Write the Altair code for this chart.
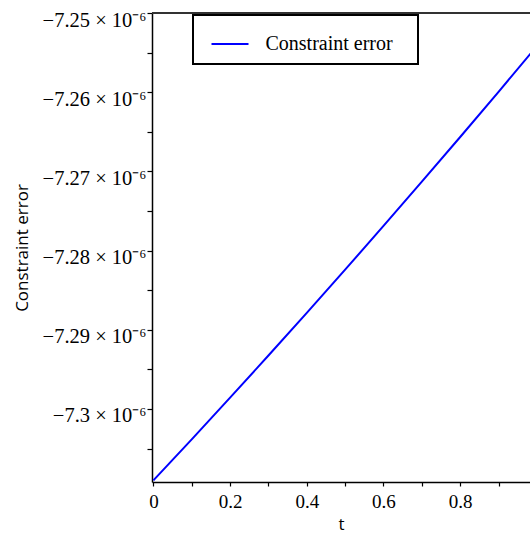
import altair as alt
import pandas as pd

# Constraint error over time t
T = [0.0, 0.1, 0.2, 0.3, 0.4, 0.5, 0.6, 0.7, 0.8, 0.9, 1.0]
ERR = [-7.30902e-6, -7.30383e-6, -7.29857e-6, -7.29325e-6, -7.28786e-6,
       -7.28241e-6, -7.27689e-6, -7.27130e-6, -7.26566e-6, -7.25995e-6,
       -7.25417e-6]
SERIES = ["Constraint error"] * len(T)

# axis ticks (major + minor)
X_TICKS = [0.0, 0.1, 0.2, 0.3, 0.4, 0.5, 0.6, 0.7, 0.8, 0.9]
Y_TICKS = [-7.25e-6, -7.255e-6, -7.26e-6, -7.265e-6, -7.27e-6, -7.275e-6,
           -7.28e-6, -7.285e-6, -7.29e-6, -7.295e-6, -7.30e-6, -7.305e-6]
X_DOMAIN = [-0.0036, 0.982]
Y_DOMAIN = [-7.30922e-6, -7.25e-6]

df = pd.DataFrame({"t": T, "err": ERR, "series": SERIES})

SERIF = "Liberation Serif"
SANS = "Open Sans"

x_enc = alt.X(
    "t:Q",
    scale=alt.Scale(domain=X_DOMAIN, nice=False, zero=False),
    axis=alt.Axis(
        title="t",
        values=X_TICKS,
        labelExpr="round(datum.value*10) % 2 == 0 ? format(datum.value, '~g') : ''",
        labelFont=SERIF, labelFontSize=19, labelColor="black",
        labelBaseline="alphabetic", labelPadding=21,
        tickSize=4, tickColor="black", tickWidth=1.2,
        domainColor="black", domainWidth=1.5,
        grid=False,
        titleFont=SANS, titleFontSize=17, titleFontWeight="normal",
        titleColor="black", titleBaseline="alphabetic", titleY=47,
    ),
)

# label only the whole multiples of 1e-8; the half steps stay as bare ticks
y_enc = alt.Y(
    "err:Q",
    scale=alt.Scale(domain=Y_DOMAIN, nice=False, zero=False),
    axis=alt.Axis(
        title="Constraint error",
        values=Y_TICKS,
        labelExpr="abs(datum.value*1e8 - round(datum.value*1e8)) < 0.1 ? format(datum.value*1e6, '.2~f') + ' × 10⁻⁶' : ''",
        labelFont=SERIF, labelFontSize=20.5, labelColor="black",
        labelBaseline="alphabetic", labelOffset=13, labelPadding=1,
        tickSize=5, tickColor="black", tickWidth=1.2,
        domainColor="black", domainWidth=1.5,
        grid=False,
        titleFont=SANS, titleFontSize=17, titleFontWeight="normal",
        titleColor="black", titleBaseline="alphabetic",
        titleX=-125, titleY=234.5, titleAngle=270,
    ),
)

line = alt.Chart(df).mark_line(clip=True, strokeWidth=2).encode(
    x=x_enc,
    y=y_enc,
    color=alt.Color(
        "series:N",
        scale=alt.Scale(range=["#0000ff"]),
        legend=alt.Legend(
            title=None, orient="none", legendX=41, legendY=2,
            symbolType="stroke", symbolSize=1369, symbolStrokeWidth=2,
            symbolOffset=8,
            labelFont=SERIF, labelFontSize=20, labelColor="black",
            labelOffset=16,
            # keep some blank room after the label inside the frame
            labelExpr="datum.label + '\u00a0\u00a0\u00a0\u200b'",
            padding=9.5, strokeColor="black",
        ),
    ),
)

# frame line along the top of the plot
top = alt.Chart(df).mark_rule(color="#333333", strokeWidth=1.5).encode(
    y=alt.datum(Y_DOMAIN[1])
)

chart = alt.layer(line, top).properties(
    width=378, height=469,
    padding={"left": 152, "top": 13, "right": 0, "bottom": 51},
    autosize=alt.AutoSizeParams(type="none"),
    background="white",
).configure_view(stroke=None).configure_legend(strokeWidth=2)

chart.save("out.html", embed_options={"renderer": "svg", "actions": False})
